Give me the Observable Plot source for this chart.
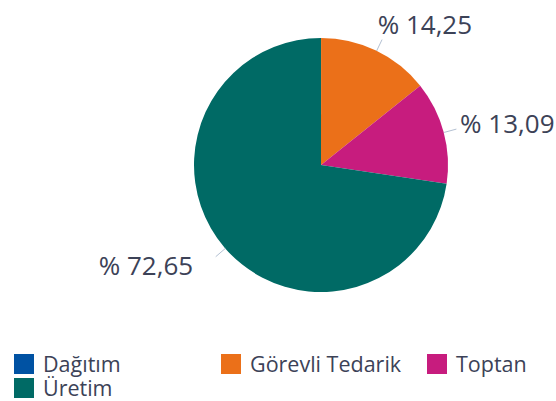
<!DOCTYPE html>
<html>
<head>
<meta charset="utf-8">
<script src="https://cdn.jsdelivr.net/npm/d3@7"></script>
<script src="https://cdn.jsdelivr.net/npm/@observablehq/plot@0.6"></script>
<style>
  body { margin: 0; background: #fff; font-family: "Open Sans", sans-serif; }
  #wrap { position: relative; width: 556px; height: 401px; overflow: hidden; }
  #chart { position: absolute; left: 0; top: 0; }
  #legend { position: absolute; left: 14px; top: 354px; display: grid;
    grid-template-columns: 207px 206px 120px; grid-auto-rows: 24px; }
  .item { display: flex; align-items: center; font-size: 21.5px; line-height: 20px; color: #3c4257; white-space: nowrap; height: 20px; }
  .sw { width: 20px; height: 20px; margin-right: 9px; flex: none; }
</style>
</head>
<body>
<div id="wrap"><div id="chart"></div><div id="legend"></div></div>
<script>
const categories = ["Dağıtım", "Görevli Tedarik", "Toptan", "Üretim"];
const values = [0.01, 14.25, 13.09, 72.65];
const labels = ["% 0,01", "% 14,25", "% 13,09", "% 72,65"];
const colors = ["#0052a3", "#eb7019", "#c71c7e", "#006a65"];

const data = categories.map((c, i) => ({category: c, value: values[i], label: labels[i], color: colors[i]}));
const arcs = d3.pie().sort(null).value(d => d.value)(data);

const labelData = arcs.filter(a => a.data.value > 1).map(a => {
  const m = (a.startAngle + a.endAngle) / 2;
  return {
    label: a.data.label,
    side: Math.sin(m) >= 0 ? "right" : "left",
    x1: Math.sin(m), y1: Math.cos(m),
    x2: 1.1 * Math.sin(m), y2: 1.1 * Math.cos(m),
    tx: 1.22 * Math.sin(m), ty: 1.22 * Math.cos(m)
  };
});

function pieMark(index, scales) {
  const cx = scales.x(0), cy = scales.y(0), r = scales.x(1) - cx;
  const arc = d3.arc().innerRadius(0).outerRadius(r);
  const g = d3.create("svg:g").attr("transform", `translate(${cx},${cy})`);
  g.selectAll("path").data(arcs).join("path")
    .attr("d", arc)
    .attr("fill", d => d.data.color);
  return g.node();
}

const R = 127, CX = 321, CY = 165, H = 345;
const chart = Plot.plot({
  width: 556,
  height: H,
  marginLeft: CX - R,
  marginRight: 556 - (CX + R),
  marginTop: CY - R,
  marginBottom: H - (CY + R),
  x: {domain: [-1, 1], axis: null},
  y: {domain: [-1, 1], axis: null},
  style: {fontFamily: "Open Sans", background: "transparent", overflow: "visible"},
  marks: [
    pieMark,
    Plot.link(labelData, {x1: "x1", y1: "y1", x2: "x2", y2: "y2", stroke: "#b3c0d2", strokeWidth: 1}),
    Plot.text(labelData.filter(d => d.side === "right"), {x: "tx", y: "ty", text: "label", textAnchor: "start", dx: -11, fontSize: 26, fill: "#3c4257"}),
    Plot.text(labelData.filter(d => d.side === "left"), {x: "tx", y: "ty", text: "label", textAnchor: "end", dx: -11, fontSize: 26, fill: "#3c4257"})
  ]
});
document.getElementById("chart").appendChild(chart);

const legend = d3.select("#legend");
const items = legend.selectAll(".item").data(data).join("div").attr("class", "item");
items.append("div").attr("class", "sw").style("background", d => d.color);
items.append("span").text(d => d.category);
</script>
</body>
</html>
